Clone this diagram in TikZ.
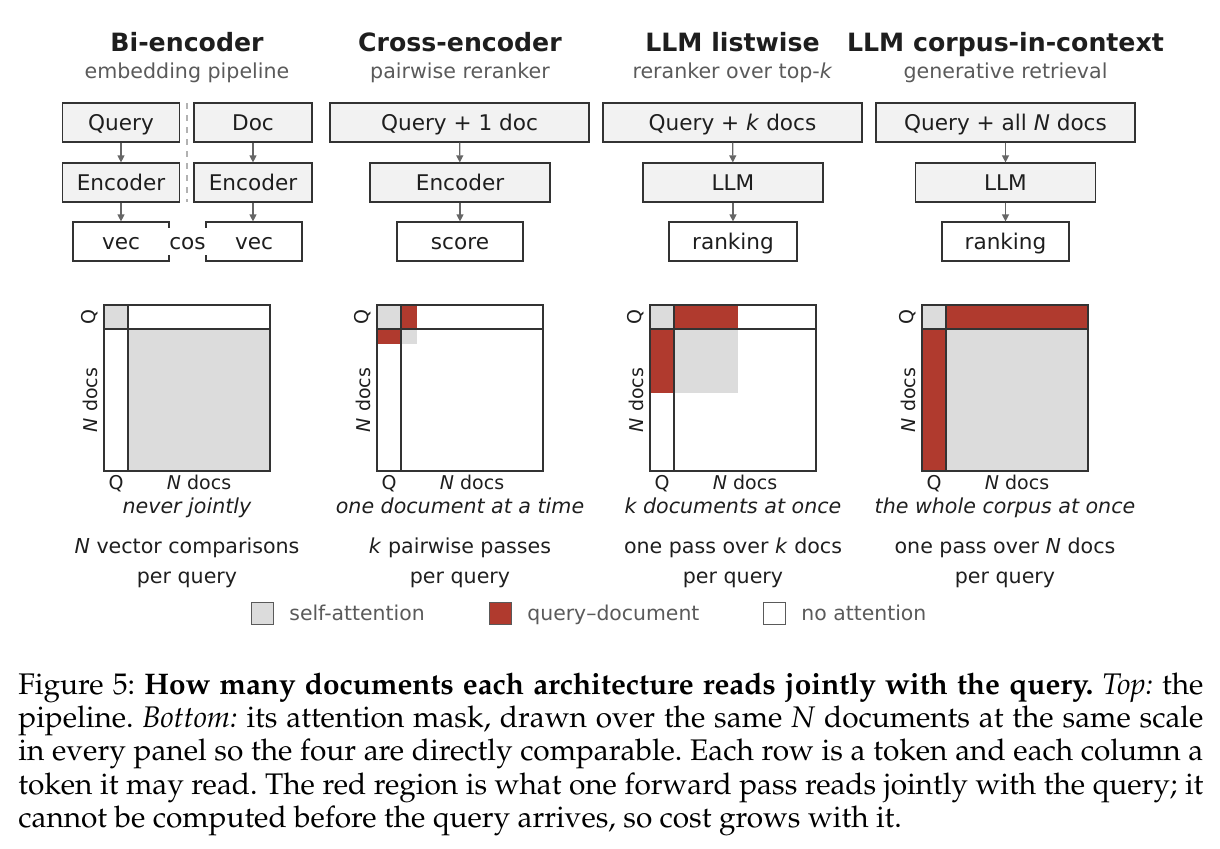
\documentclass[tikz,border=0pt]{standalone}
\usepackage{fontspec}
\usepackage[T1,TU]{fontenc}
\newfontfamily\dvs{DejaVu Sans}
\usetikzlibrary{arrows.meta}
\definecolor{boxline}{HTML}{333333}
\definecolor{boxfill}{HTML}{F2F2F2}
\definecolor{selfc}{HTML}{DCDCDC}
\definecolor{qdoc}{HTML}{B03A2E}
\definecolor{arrowc}{HTML}{666666}
\definecolor{subc}{HTML}{5A5A5A}
\definecolor{txt}{HTML}{1E1E1E}
\newcommand\capfont{\fontencoding{T1}\fontfamily{ppl}\selectfont}
\tikzset{
  pbox/.style={draw=boxline, line width=0.6pt, fill=boxfill, minimum height=19.5pt, inner sep=0pt,
    text height=0.78em, text depth=0pt,
    font=\dvs\fontsize{10.8}{13}\selectfont, text=txt},
  obox/.style={pbox, fill=white},
  flow/.style={draw=arrowc, line width=0.6pt, -{Triangle[length=3.5pt,width=3.5pt]}},
  ttl/.style={font=\dvs\bfseries\fontsize{12.6}{15}\selectfont, text=txt, anchor=base, inner sep=0pt},
  subttl/.style={font=\dvs\fontsize{10.3}{12}\selectfont, text=subc, anchor=base, inner sep=0pt},
  mline/.style={draw=boxline, line width=0.6pt},
  lbl/.style={font=\dvs\fontsize{9.5}{11}\selectfont, text=txt, inner sep=0pt},
  note/.style={font=\dvs\fontsize{10.3}{12}\selectfont, text=txt, anchor=base, inner sep=0pt},
  legsq/.style={draw=subc, line width=0.5pt, minimum size=11pt, inner sep=0pt},
  legtxt/.style={font=\dvs\fontsize{10.2}{12}\selectfont, text=subc, anchor=base west, inner sep=0pt},
}
\begin{document}
\begin{tikzpicture}[x=0.5pt,y=-0.5pt]
\useasboundingbox (0,0) rectangle (1220,848);

% ---------- titles ----------
\node[ttl] (t1) at (187,51) {Bi-encoder};
\node[subttl] (s1) at (187,78) {embedding pipeline};
\node[ttl] (t2) at (460,51) {Cross-encoder};
\node[subttl] (s2) at (460,78) {pairwise reranker};
\node[ttl] (t3) at (732.5,51) {LLM listwise};
\node[subttl] (s3) at (732.5,78) {reranker over top-\textit{k}};
\node[ttl] (t4) at (1005.5,51) {LLM corpus-in-context};
\node[subttl] (s4) at (1005.5,78) {generative retrieval};

% ---------- Bi-encoder pipeline ----------
\coordinate (sepA) at (187,103);
\coordinate (sepB) at (187,202);
\draw[draw=black!30, line width=0.6pt, dashed] (sepA) -- (sepB);
\node[pbox, minimum width=58.5pt] (bq) at (121,122.5) {Query};
\node[pbox, minimum width=59pt] (bd) at (253,122.5) {Doc};
\node[pbox, minimum width=58.5pt] (beq) at (121,182.5) {Encoder};
\node[pbox, minimum width=59pt] (bed) at (253,182.5) {Encoder};
\node[obox, minimum width=48pt] (bvq) at (121,241.5) {vec};
\node[obox, minimum width=48pt] (bvd) at (254,241.5) {vec};
\node[fill=white, inner xsep=1.5pt, inner ysep=0pt, minimum height=13.5pt,
  text height=0.78em, text depth=0pt,
  font=\dvs\fontsize{10.8}{13}\selectfont, text=txt] (cos) at (187.5,241.5) {cos};
\draw[flow] (bq) -- (beq);
\draw[flow] (bd) -- (bed);
\draw[flow] (beq) -- (bvq);
\draw[flow] (bed) -- (bvd.north -| bed.south);

% ---------- Cross-encoder pipeline ----------
\node[pbox, minimum width=129.5pt] (cq) at (459.5,122.5) {Query + 1 doc};
\node[pbox, minimum width=90pt] (ce) at (460,182.5) {Encoder};
\node[obox, minimum width=63pt] (cs) at (460,241.5) {score};
\draw[flow] (cq) -- (ce);
\draw[flow] (ce) -- (cs);

% ---------- LLM listwise pipeline ----------
\node[pbox, minimum width=129.5pt] (lq) at (732.5,122.5) {Query + \textit{k} docs};
\node[pbox, minimum width=90pt] (ll) at (733,182.5) {LLM};
\node[obox, minimum width=64pt] (lr) at (733,241.5) {ranking};
\draw[flow] (lq) -- (ll);
\draw[flow] (ll) -- (lr);

% ---------- LLM corpus pipeline ----------
\node[pbox, minimum width=129.5pt] (kq) at (1005.5,122.5) {Query + all \textit{N} docs};
\node[pbox, minimum width=90pt] (kl) at (1005.5,182.5) {LLM};
\node[obox, minimum width=63.5pt] (kr) at (1005.5,241.5) {ranking};
\draw[flow] (kq) -- (kl);
\draw[flow] (kl) -- (kr);

% ---------- attention masks ----------
% Bi-encoder
\begin{scope}[shift={(104,305)}]
  \fill[selfc] (0,0) rectangle (24,24);
  \fill[selfc] (24,24) rectangle (166,166);
  \draw[mline] (0,0) rectangle (166,166);
  \draw[mline] (24,0) -- (24,166);
  \draw[mline] (0,24) -- (166,24);
  \node[lbl, rotate=90] (m1q) at (-14,12) {Q};
  \node[lbl, rotate=90] (m1n) at (-14,95) {\textit{N} docs};
  \node[lbl, anchor=base] (m1bq) at (12,184) {Q};
  \node[lbl, anchor=base] (m1bn) at (95,184) {\textit{N} docs};
\end{scope}
% Cross-encoder
\begin{scope}[shift={(377,305)}]
  \fill[selfc] (0,0) rectangle (24,24);
  \fill[qdoc] (24,0) rectangle (40,24);
  \fill[qdoc] (0,24) rectangle (24,39);
  \fill[selfc] (24,24) rectangle (40,39);
  \draw[mline] (0,0) rectangle (166,166);
  \draw[mline] (24,0) -- (24,166);
  \draw[mline] (0,24) -- (166,24);
  \node[lbl, rotate=90] (m2q) at (-14,12) {Q};
  \node[lbl, rotate=90] (m2n) at (-14,95) {\textit{N} docs};
  \node[lbl, anchor=base] (m2bq) at (12,184) {Q};
  \node[lbl, anchor=base] (m2bn) at (95,184) {\textit{N} docs};
\end{scope}
% LLM listwise
\begin{scope}[shift={(650,305)}]
  \fill[selfc] (0,0) rectangle (24,24);
  \fill[qdoc] (24,0) rectangle (88,24);
  \fill[qdoc] (0,24) rectangle (24,88);
  \fill[selfc] (24,24) rectangle (88,88);
  \draw[mline] (0,0) rectangle (166,166);
  \draw[mline] (24,0) -- (24,166);
  \draw[mline] (0,24) -- (166,24);
  \node[lbl, rotate=90] (m3q) at (-14,12) {Q};
  \node[lbl, rotate=90] (m3n) at (-14,95) {\textit{N} docs};
  \node[lbl, anchor=base] (m3bq) at (12,184) {Q};
  \node[lbl, anchor=base] (m3bn) at (95,184) {\textit{N} docs};
\end{scope}
% LLM corpus-in-context
\begin{scope}[shift={(922,305)}]
  \fill[selfc] (0,0) rectangle (24,24);
  \fill[qdoc] (24,0) rectangle (166,24);
  \fill[qdoc] (0,24) rectangle (24,166);
  \fill[selfc] (24,24) rectangle (166,166);
  \draw[mline] (0,0) rectangle (166,166);
  \draw[mline] (24,0) -- (24,166);
  \draw[mline] (0,24) -- (166,24);
  \node[lbl, rotate=90] (m4q) at (-14,12) {Q};
  \node[lbl, rotate=90] (m4n) at (-14,95) {\textit{N} docs};
  \node[lbl, anchor=base] (m4bq) at (12,184) {Q};
  \node[lbl, anchor=base] (m4bn) at (95,184) {\textit{N} docs};
\end{scope}

% ---------- notes under masks ----------
\node[note] (n1a) at (187,513) {\itshape never jointly};
\node[note] (n1b) at (187,553) {\textit{N} vector comparisons};
\node[note] (n1c) at (187,583) {per query};
\node[note] (n2a) at (460,513) {\itshape one document at a time};
\node[note] (n2b) at (460,553) {\textit{k} pairwise passes};
\node[note] (n2c) at (460,583) {per query};
\node[note] (n3a) at (733,513) {\itshape k documents at once};
\node[note] (n3b) at (733,553) {one pass over \textit{k} docs};
\node[note] (n3c) at (733,583) {per query};
\node[note] (n4a) at (1005,513) {\itshape the whole corpus at once};
\node[note] (n4b) at (1005,553) {one pass over \textit{N} docs};
\node[note] (n4c) at (1005,583) {per query};

% ---------- legend ----------
\node[legsq, fill=selfc] (lg1) at (262,613) {};
\node[legtxt] (lg1t) at (289,620) {self-attention};
\node[legsq, fill=qdoc] (lg2) at (500,613) {};
\node[legtxt] (lg2t) at (527,620) {query–document};
\node[legsq, fill=white] (lg3) at (774,613) {};
\node[legtxt] (lg3t) at (801,620) {no attention};

% ---------- caption ----------
\node[anchor=base west, inner sep=0pt] (cap) at (18,694) {\parbox[t]{592.5pt}{\capfont\fontsize{14.9}{16.7}\selectfont\frenchspacing
Figure 5: \textbf{How many documents each architecture reads jointly with the query.} \textit{Top:} the\linebreak
pipeline. \textit{Bottom:} its attention mask, drawn over the same \textit{N} documents at the same scale\linebreak
in every panel so the four are directly comparable. Each row is a token and each column a\linebreak
token it may read. The red region is what one forward pass reads jointly with the query; it\linebreak
cannot be computed before the query arrives, so cost grows with it.}};
\end{tikzpicture}
\end{document}
